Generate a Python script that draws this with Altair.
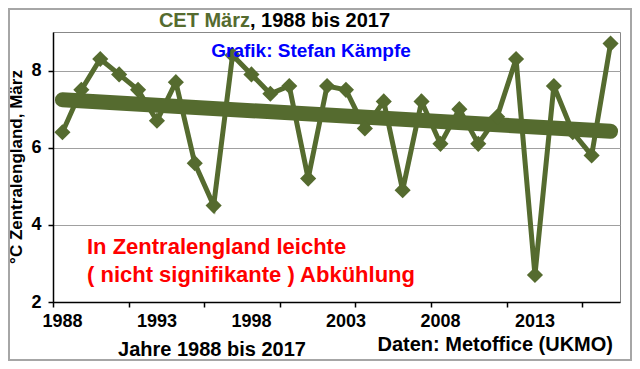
import altair as alt
import pandas as pd

years = [1988, 1989, 1990, 1991, 1992, 1993, 1994, 1995, 1996, 1997,
         1998, 1999, 2000, 2001, 2002, 2003, 2004, 2005, 2006, 2007,
         2008, 2009, 2010, 2011, 2012, 2013, 2014, 2015, 2016, 2017]
temps = [6.4, 7.5, 8.3, 7.9, 7.5, 6.7, 7.7, 5.6, 4.5, 8.4,
         7.9, 7.4, 7.6, 5.2, 7.6, 7.5, 6.5, 7.2, 4.9, 7.2,
         6.1, 7.0, 6.1, 6.8, 8.3, 2.7, 7.6, 6.4, 5.8, 8.7]
x_labels = [1988, 1993, 1998, 2003, 2008, 2013]
y_ticks = [2, 4, 6, 8]

OLIVE = "#556B2F"
FONT = "Liberation Sans"
W, H = 567, 270

df = pd.DataFrame({"year": years, "temp": temps})
tick_pos = [1987.5 + i for i in range(31)]

x_enc = alt.X(
    "year:Q",
    scale=alt.Scale(domain=[1987.5, 2017.5], nice=False, zero=False),
    axis=alt.Axis(
        values=tick_pos, title=None, grid=False, labels=False,
        tickSize=5, tickColor="black", tickWidth=1.5,
        domainColor="black", domainWidth=1.5,
    ),
)
y_enc = alt.Y(
    "temp:Q",
    scale=alt.Scale(domain=[2, 9], nice=False, zero=False),
    axis=alt.Axis(
        values=y_ticks, title=None, grid=True, gridColor="#a0a0a0", gridWidth=1,
        labelFontSize=18, labelFontWeight="bold", labelFont=FONT, labelColor="black",
        labelPadding=7, tickSize=5, tickColor="black", tickWidth=1.5,
        domainColor="black", domainWidth=1.5,
    ),
)

base = alt.Chart(df)

line = base.mark_line(color=OLIVE, strokeWidth=5).encode(x=x_enc, y=y_enc)
points = base.mark_point(shape="diamond", filled=True, size=260, color=OLIVE, opacity=1).encode(
    x="year:Q", y="temp:Q")
trend = base.transform_regression("year", "temp").mark_line(
    color=OLIVE, strokeWidth=15, strokeCap="round").encode(x="year:Q", y="temp:Q")

year_labels = alt.Chart(pd.DataFrame({"year": x_labels})).mark_text(
    font=FONT, fontWeight="bold", fontSize=18, color="black", baseline="middle"
).encode(x="year:Q", y=alt.value(H + 20), text=alt.Text("year:Q", format="d"))


def txt(text, x, y, color="black", size=16, align="center", angle=0):
    return alt.Chart(pd.DataFrame({"t": [text]})).mark_text(
        font=FONT, fontWeight="bold", fontSize=size, color=color,
        align=align, baseline="middle", angle=angle,
    ).encode(text="t:N", x=alt.value(x), y=alt.value(y))


title1 = txt("CET März", 197, -11, color=OLIVE, size=20, align="right")
title2 = txt(", 1988 bis 2017", 197, -11, color="black", size=20, align="left")
grafik = txt("Grafik: Stefan Kämpfe", 258, 19, color="#0000FF", size=19)
red1 = txt("In Zentralengland leichte", 34, 215, color="#FF0000", size=22, align="left")
red2 = txt("( nicht signifikante ) Abkühlung", 34, 243, color="#FF0000", size=22, align="left")
xlab = txt("Jahre 1988 bis 2017", 159, 318, size=20)
daten = txt("Daten: Metoffice (UKMO)", 560, 313, size=20, align="right")
ylab = txt("°C Zentralengland, März", -36, H / 2, size=17, angle=270)

border = alt.Chart(pd.DataFrame({"a": [0]})).mark_rect(
    filled=False, stroke="#a6a6a6", strokeWidth=2
).encode(x=alt.value(-44), x2=alt.value(W + 11), y=alt.value(-23), y2=alt.value(H + 58))

chart = alt.layer(
    line, trend, points, year_labels, title1, title2, grafik, red1, red2, xlab, daten, ylab, border
).properties(
    width=W, height=H,
    autosize=alt.AutoSizeParams(type="none"),
    padding={"left": 45, "top": 24, "right": 12, "bottom": 59},
    background="white",
).configure_view(stroke="#888888", strokeWidth=1)

chart.save("out.html", embed_options={"renderer": "svg", "actions": False})
